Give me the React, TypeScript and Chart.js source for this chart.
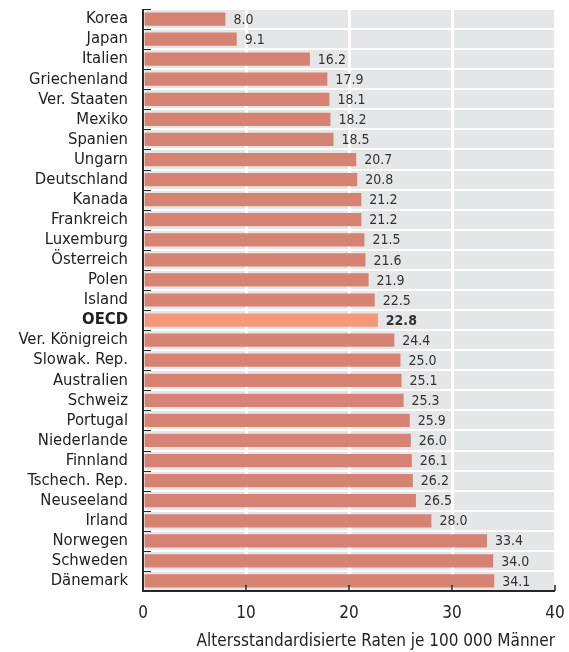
import React, { useEffect, useRef } from "react";
import { Chart, registerables } from "chart.js";

Chart.register(...registerables);

const categories = [
  "Korea", "Japan", "Italien", "Griechenland", "Ver. Staaten", "Mexiko", "Spanien",
  "Ungarn", "Deutschland", "Kanada", "Frankreich", "Luxemburg", "Österreich", "Polen",
  "Island", "OECD", "Ver. Königreich", "Slowak. Rep.", "Australien", "Schweiz",
  "Portugal", "Niederlande", "Finnland", "Tschech. Rep.", "Neuseeland", "Irland",
  "Norwegen", "Schweden", "Dänemark",
];
const values = [
  8.0, 9.1, 16.2, 17.9, 18.1, 18.2, 18.5, 20.7, 20.8, 21.2, 21.2, 21.5, 21.6, 21.9,
  22.5, 22.8, 24.4, 25.0, 25.1, 25.3, 25.9, 26.0, 26.1, 26.2, 26.5, 28.0, 33.4, 34.0, 34.1,
];
const highlight = "OECD";
const xTicks = [0, 10, 20, 30, 40];
const xTitle = "Altersstandardisierte Raten je 100 000 Männer";

const FONT = "'DejaVu Sans Condensed', 'DejaVu Sans', sans-serif";
const BAR = "#d68373";
const BAR_HI = "#f5977a";
const BG = "#e5e6e8";
const DARK = "#262626";

const decor = {
  id: "decor",
  beforeDraw(chart: any) {
    const { ctx, chartArea: a } = chart;
    ctx.save();
    ctx.fillStyle = BG;
    ctx.fillRect(a.left, a.top, a.right - a.left, a.bottom - a.top);
    ctx.restore();
  },
  afterDraw(chart: any) {
    const { ctx, chartArea: a, scales } = chart;
    const x = scales.x;
    ctx.save();
    ctx.strokeStyle = DARK;
    ctx.lineWidth = 2;
    ctx.beginPath();
    ctx.moveTo(a.left, a.top);
    ctx.lineTo(a.left, a.bottom);
    ctx.lineTo(a.right, a.bottom);
    ctx.stroke();
    ctx.lineWidth = 1;
    const n = categories.length;
    const step = (a.bottom - a.top) / n;
    for (let i = 0; i < n; i++) {
      const yy = Math.round(a.top + i * step) + 0.5;
      ctx.beginPath();
      ctx.moveTo(a.left, yy);
      ctx.lineTo(a.left + 8, yy);
      ctx.stroke();
    }
    ctx.lineWidth = 1.5;
    for (const t of xTicks) {
      if (t === 0) continue;
      const xx = x.getPixelForValue(t);
      ctx.beginPath();
      ctx.moveTo(xx, a.bottom);
      ctx.lineTo(xx, a.bottom - 6);
      ctx.stroke();
    }
    ctx.fillStyle = "#333333";
    ctx.textBaseline = "middle";
    ctx.textAlign = "left";
    const meta = chart.getDatasetMeta(0);
    meta.data.forEach((bar: any, i: number) => {
      const bold = categories[i] === highlight;
      ctx.font = `${bold ? "bold " : ""}14px ${FONT}`;
      ctx.fillText(values[i].toFixed(1), bar.x + 8, bar.y + 1);
    });
    ctx.restore();
  },
};

export default function App() {
  const ref = useRef<HTMLCanvasElement>(null);
  useEffect(() => {
    document.body.style.margin = "0";
    const chart = new Chart(ref.current!, {
      type: "bar",
      data: {
        labels: categories,
        datasets: [
          {
            data: values,
            backgroundColor: categories.map((c) => (c === highlight ? BAR_HI : BAR)),
            barPercentage: 0.66,
            categoryPercentage: 1,
          },
        ],
      },
      plugins: [decor],
      options: {
        indexAxis: "y",
        responsive: false,
        animation: false,
        layout: { padding: { top: 9, right: 14, left: 0, bottom: 0 } },
        plugins: { legend: { display: false }, tooltip: { enabled: false } },
        scales: {
          x: {
            min: 0,
            max: 40,
            afterBuildTicks: (s: any) => {
              s.ticks = xTicks.map((v) => ({ value: v }));
            },
            afterFit: (s: any) => {
              s.height = 61;
              s.paddingLeft = 0;
              s.paddingRight = 0;
            },
            grid: { color: "#ffffff", lineWidth: 3, drawTicks: false },
            border: { display: false },
            ticks: {
              padding: 12,
              color: "#222222",
              font: { family: FONT, size: 17 },
            },
            title: {
              display: true,
              text: xTitle,
              align: "end",
              color: "#222222",
              font: { family: FONT, size: 17 },
              padding: { top: 4, bottom: 0 },
            },
          },
          y: {
            afterFit: (s: any) => {
              s.width = 143;
              s.paddingTop = 0;
              s.paddingBottom = 0;
            },
            grid: { color: "#ffffff", lineWidth: 2, drawTicks: false, offset: true },
            border: { display: false },
            ticks: {
              padding: 15,
              color: "#222222",
              autoSkip: false,
              font: (ctx: any) => ({
                family: FONT,
                size: 16.5,
                weight: categories[ctx.index] === highlight ? "bold" : "normal",
              }),
            },
          },
        },
      },
    });
    return () => chart.destroy();
  }, []);
  return <canvas ref={ref} width={569} height={652} style={{ display: "block" }} />;
}
